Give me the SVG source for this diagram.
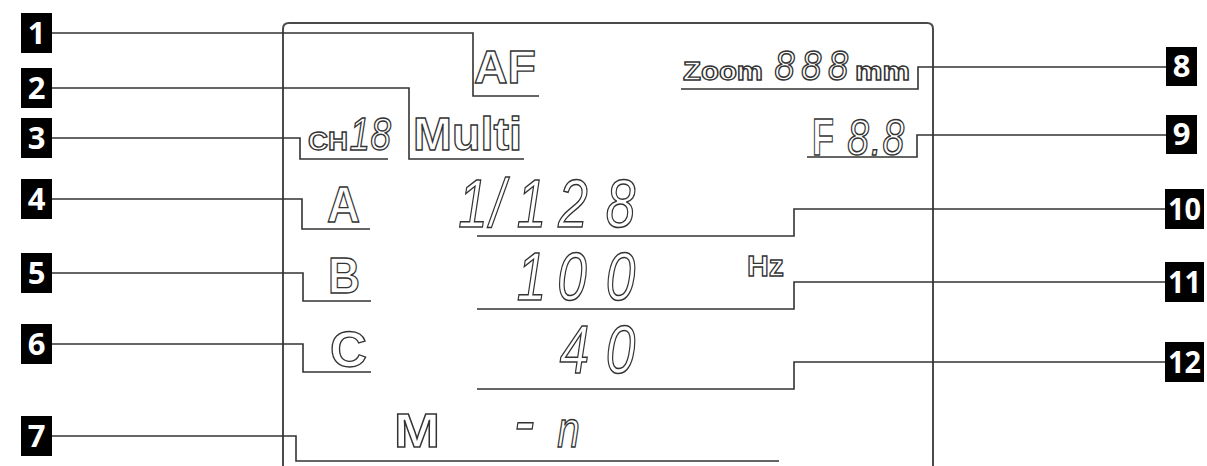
<svg xmlns="http://www.w3.org/2000/svg" width="1207" height="466" viewBox="0 0 1207 466">
<style>
.frame{fill:none;stroke:#4a4a4a;stroke-width:2}
.conn polyline{fill:none;stroke:#333;stroke-width:1.6}
.box{fill:#000}
.num{font-family:"Open Sans","Liberation Sans",sans-serif;font-weight:bold;font-size:31px;fill:#fff;text-anchor:middle}
.lcd{font-family:"Liberation Sans",Arial,sans-serif;font-weight:bold;fill:#fff;stroke:#333;stroke-width:1.3}
.seg{font-family:"Liberation Sans",Arial,sans-serif;font-style:italic;fill:#fff;stroke:#333;stroke-width:1.5}
</style>
<rect width="1207" height="466" fill="#fff"/>
<path class="frame" d="M283,470 L283,29 Q283,23 289,23 L927,23 Q933,23 933,29 L933,470"/>
<g id="connectors" class="conn">
<polyline points="52,33 473,33 473,96 539,96"/>
<polyline points="52,88 409,88 409,159 524,159"/>
<polyline points="52,138 300,138 300,159 388,159"/>
<polyline points="52,199 302,199 302,229 370,229"/>
<polyline points="52,273 303,273 303,301 371,301"/>
<polyline points="52,344 303,344 303,372 371,372"/>
<polyline points="52,436 296,436 296,461 779,461"/>
<polyline points="1166,67 918,67 918,89 681,89"/>
<polyline points="1166,135 917,135 917,157 807,157"/>
<polyline points="1166,209 794,209 794,236 477,236"/>
<polyline points="1166,282 794,282 794,309 477,309"/>
<polyline points="1166,362 794,362 794,389 477,389"/>
</g>
<g id="n1"><rect class="box" x="21" y="13" width="31" height="40"/><text class="num" x="36.5" y="44">1</text></g>
<g id="n2"><rect class="box" x="21" y="68" width="31" height="40"/><text class="num" x="36.5" y="99">2</text></g>
<g id="n3"><rect class="box" x="21" y="118" width="31" height="40"/><text class="num" x="36.5" y="149">3</text></g>
<g id="n4"><rect class="box" x="21" y="179" width="31" height="40"/><text class="num" x="36.5" y="210">4</text></g>
<g id="n5"><rect class="box" x="21" y="253" width="31" height="40"/><text class="num" x="36.5" y="284">5</text></g>
<g id="n6"><rect class="box" x="21" y="324" width="31" height="40"/><text class="num" x="36.5" y="355">6</text></g>
<g id="n7"><rect class="box" x="21" y="416" width="31" height="40"/><text class="num" x="36.5" y="447">7</text></g>
<g id="n8"><rect class="box" x="1166" y="47" width="31" height="39"/><text class="num" x="1181.5" y="77">8</text></g>
<g id="n9"><rect class="box" x="1166" y="115" width="31" height="39"/><text class="num" x="1181.5" y="145">9</text></g>
<g id="n10"><rect class="box" x="1165" y="189" width="39" height="40"/><text class="num" x="1184.5" y="220" textLength="33" lengthAdjust="spacingAndGlyphs">10</text></g>
<g id="n11"><rect class="box" x="1165" y="262" width="39" height="40"/><text class="num" x="1184.5" y="293" textLength="33" lengthAdjust="spacingAndGlyphs">11</text></g>
<g id="n12"><rect class="box" x="1165" y="342" width="39" height="40"/><text class="num" x="1184.5" y="373" textLength="33" lengthAdjust="spacingAndGlyphs">12</text></g>
<g id="lcd-af"><text class="lcd" x="474" y="83" font-size="46" textLength="62" lengthAdjust="spacingAndGlyphs">AF</text></g>
<g id="lcd-multi"><text class="lcd" x="413" y="150" font-size="46" textLength="109" lengthAdjust="spacingAndGlyphs">Multi</text></g>
<g id="lcd-ch"><text class="lcd" x="308" y="150" font-size="25" textLength="40" lengthAdjust="spacingAndGlyphs">CH</text><text class="seg" transform="translate(348,150) scale(0.8,1)" font-size="46" x="2 28">18</text></g>
<g id="lcd-zoom"><text class="lcd" x="683" y="80" font-size="25" textLength="80" lengthAdjust="spacingAndGlyphs">Zoom</text><text class="seg" transform="translate(772,80) scale(0.86,1)" font-size="42" x="3 34 65">888</text><text class="lcd" x="855" y="80" font-size="25" textLength="55" lengthAdjust="spacingAndGlyphs">mm</text></g>
<g id="lcd-f"><text class="lcd" x="812" y="155" font-size="52" textLength="22" lengthAdjust="spacingAndGlyphs">F</text><text class="seg" transform="translate(845,155) scale(0.78,1)" font-size="50" x="3 33 48">8.8</text></g>
<g id="lcd-a"><text class="lcd" x="327" y="222" font-size="50" textLength="33" lengthAdjust="spacingAndGlyphs">A</text></g>
<g id="lcd-b"><text class="lcd" x="328" y="293" font-size="50" textLength="32" lengthAdjust="spacingAndGlyphs">B</text></g>
<g id="lcd-c"><text class="lcd" x="330" y="367" font-size="50" textLength="37" lengthAdjust="spacingAndGlyphs">C</text></g>
<g id="lcd-m"><text class="lcd" x="394" y="447" font-size="48" textLength="46" lengthAdjust="spacingAndGlyphs">M</text></g>
<g id="lcd-hz"><text class="lcd" x="747" y="276" font-size="30" textLength="37" lengthAdjust="spacingAndGlyphs">Hz</text></g>
<g id="lcd-row1"><text class="seg" transform="translate(470,227) scale(0.78,1)" font-size="68" x="-15 26 60 113 174">1/128</text></g>
<g id="lcd-row2"><text class="seg" transform="translate(470,300) scale(0.78,1)" font-size="68" x="60 112 174">100</text></g>
<g id="lcd-row3"><text class="seg" transform="translate(470,373) scale(0.78,1)" font-size="68" x="115 174">40</text></g>
<g id="lcd-row4"><text class="seg" transform="translate(470,447) scale(0.78,1)" font-size="52"><tspan x="56" font-size="80">-</tspan><tspan x="112">n</tspan></text></g>
</svg>
